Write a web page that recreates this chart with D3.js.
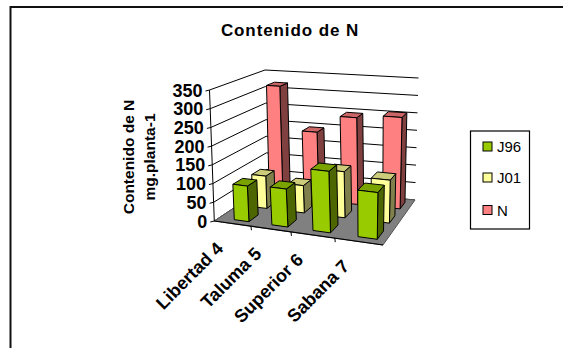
<!DOCTYPE html>
<html><head><meta charset="utf-8">
<script src="https://cdn.jsdelivr.net/npm/d3@7"></script>
<style>html,body{margin:0;padding:0;background:#fff;overflow:hidden}svg{display:block}text{font-family:"Liberation Sans",Arial,sans-serif;fill:#000}</style>
</head><body><svg id="c" width="563" height="348"></svg>
<script>
const categories = ["Libertad 4","Taluma 5","Superior 6","Sabana 7"];
const seriesNames = ["J96","J01","N"];
const J96 = [95,100,160,120];
const J01 = [90,75,125,115];
const N = [320,195,245,255];
const ticks = [0,50,100,150,200,250,300,350];
const title = "Contenido de N";
const yTitle = ["Contenido de N","mg.planta-1"];
const seriesValues = [J96,J01,N];
const fills = {J96:["#99CC00","#7AA300","#4D6600"],J01:["#FFFF99","#CCCC7A","#80804D"],N:["#FF8080","#CC6666","#804040"]};

const svg = d3.select("#c");
function homography(q){
  const [[x0,y0],[x1,y1],[x2,y2],[x3,y3]] = q;
  const dx1=x1-x2,dx2=x3-x2,sx=x0-x1+x2-x3,dy1=y1-y2,dy2=y3-y2,sy=y0-y1+y2-y3;
  const det=dx1*dy2-dx2*dy1;
  const g=(sx*dy2-dx2*sy)/det,h=(dx1*sy-sx*dy1)/det;
  const a=x1-x0+g*x1,b=x3-x0+h*x3,d=y1-y0+g*y1,e=y3-y0+h*y3;
  return (u,v)=>{const w=g*u+h*v+1;return [(a*u+b*v+x0)/w,(d*u+e*v+y0)/w];};
}
const floorH = homography([[214.3,221],[383,245],[415,200],[267,186]]);
const topH = homography([[209.5,90],[386,107],[418.5,78],[265,70]]);
const h = d3.scaleLinear().domain([0,350]).range([0,1]);
const P = (u,v,t)=>{const a=floorH(u,v),b=topH(u,v);return [a[0]+(b[0]-a[0])*t,a[1]+(b[1]-a[1])*t];};
const uS = d3.scaleBand().domain(categories).range([.03,1.03]).paddingInner(.6).paddingOuter(.3);
const vS = d3.scaleBand().domain(seriesNames).range([0,1]).paddingInner(.5).paddingOuter(.25);
const line = d3.line();
const poly = (pts,fill,stroke,sw)=>svg.append("path").attr("d",line(pts)+"Z").attr("fill",fill).attr("stroke",stroke||"#000").attr("stroke-width",sw||1).attr("stroke-linejoin","round");

svg.append("path").attr("d","M10.5,563V7H563").attr("fill","none").attr("stroke","#111").attr("stroke-width",2);

svg.append("text").text(title).attr("x",290).attr("y",36).attr("text-anchor","middle")
  .attr("font-size",17).attr("font-weight","bold").attr("letter-spacing",.9);

yTitle.forEach((t,i)=>svg.append("text").text(t)
  .attr("transform",`translate(${[134,155][i]},157) rotate(-90)`).attr("text-anchor","middle")
  .attr("font-size",15.5).attr("font-weight","bold"));

ticks.forEach(t=>{
  const k=h(t);
  svg.append("path").attr("d",line([P(0,0,k),P(0,1,k),P(1,1,k)])).attr("fill","none").attr("stroke","#000").attr("stroke-width",1);
});
poly([P(0,0,0),P(1,0,0),P(1,1,0),P(0,1,0)],"#808080","#555",1);
svg.append("path").attr("d",line([P(0,0,0),P(1,0,0)])).attr("stroke","#000").attr("stroke-width",1.2);
[1,2,3].forEach(i=>{const p=P(i/4,0,0);svg.append("path").attr("d",line([p,[p[0]+.5,p[1]+4]])).attr("stroke","#000");});
svg.append("path").attr("d",line([P(0,0,0),P(0,0,1)])).attr("stroke","#000").attr("stroke-width",1);
ticks.forEach(t=>{
  const p=P(0,0,h(t));
  svg.append("path").attr("d",line([p,[p[0]-4,p[1]+1]])).attr("stroke","#000");
  svg.append("text").text(t).attr("x",p[0]-7).attr("y",p[1]+6.5).attr("text-anchor","end")
    .attr("font-size",18).attr("font-weight","bold");
});
[2,1,0].forEach(si=>{
  const name=seriesNames[si],f=fills[name];
  const v0=vS(name),v1=v0+vS.bandwidth();
  categories.forEach((c,ci)=>{
    const u0=uS(c),u1=u0+uS.bandwidth(),k=h(seriesValues[si][ci]);
    poly([P(u1,v0,0),P(u1,v1,0),P(u1,v1,k),P(u1,v0,k)],f[2]);
    poly([P(u0,v0,k),P(u1,v0,k),P(u1,v1,k),P(u0,v1,k)],f[1]);
    poly([P(u0,v0,0),P(u1,v0,0),P(u1,v0,k),P(u0,v0,k)],f[0]);
  });
});
categories.forEach((c,i)=>{
  const p=P((i+.5)/4,0,0);
  svg.append("text").text(c).attr("transform",`translate(${p[0]-8},${p[1]+26}) rotate(-45)`)
    .attr("text-anchor","end").attr("font-size",18).attr("font-weight","bold");
});
svg.append("rect").attr("x",470.5).attr("y",131).attr("width",59).attr("height",98).attr("fill","#fff").attr("stroke","#000").attr("stroke-width",1.2);
seriesNames.forEach((s,i)=>{
  const y=[146.5,177.5,210][i];
  svg.append("rect").attr("x",483).attr("y",y-4.5).attr("width",9).attr("height",9).attr("fill",fills[s][0]).attr("stroke","#000");
  svg.append("text").text(s).attr("x",497).attr("y",y+5.5).attr("font-size",15);
});
</script></body></html>
